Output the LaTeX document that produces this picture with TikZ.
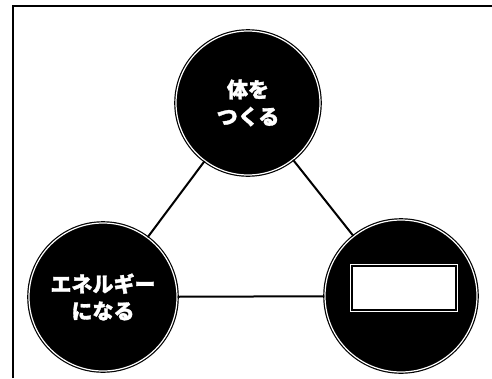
\documentclass[tikz,border=0pt]{standalone}
\usepackage{fontspec}
\newfontfamily\jpfont{Noto Sans CJK JP}[FakeBold=1.5]
\usepackage{tikz}
\usetikzlibrary{positioning}

\begin{document}
\begin{tikzpicture}[x=1pt, y=-1pt,
    every node/.style={circle, fill=black, draw=black, double=white, double distance=1.2pt,
        line width=1.2pt, text=white, align=center,
        font=\jpfont\bfseries\fontsize{21}{27}\selectfont},
    blank/.style={rectangle, fill=white, draw=black, double=none, line width=1.2pt,
        preaction={draw=white, line width=3.6pt}, minimum width=104pt, minimum height=44pt},
    link/.style={line width=2pt}]
                    \useasboundingbox (0,0) rectangle (492,378);

                    % Frame
                    \draw[line width=2.5pt] (13,378) -- (13,6) -- (492,6);

                    % Nodes
                    \node[minimum size=144pt] (body) at (248,103) {体を\\つくる};
                    \node[minimum size=148pt] (energy) at (103,297) {エネルギー\\になる};
                    \node[minimum size=152pt] (other) at (401,296) {};
                    \node[blank] (answer) at (404,288) {};

                    % Edges
                    % body to energy
                    \draw[link] (body) -- (energy);

                    % body to other
                    \draw[link] (body) -- (other);

                    % energy to other
                    \draw[link] (energy) -- (other);

                \end{tikzpicture}
\end{document}
